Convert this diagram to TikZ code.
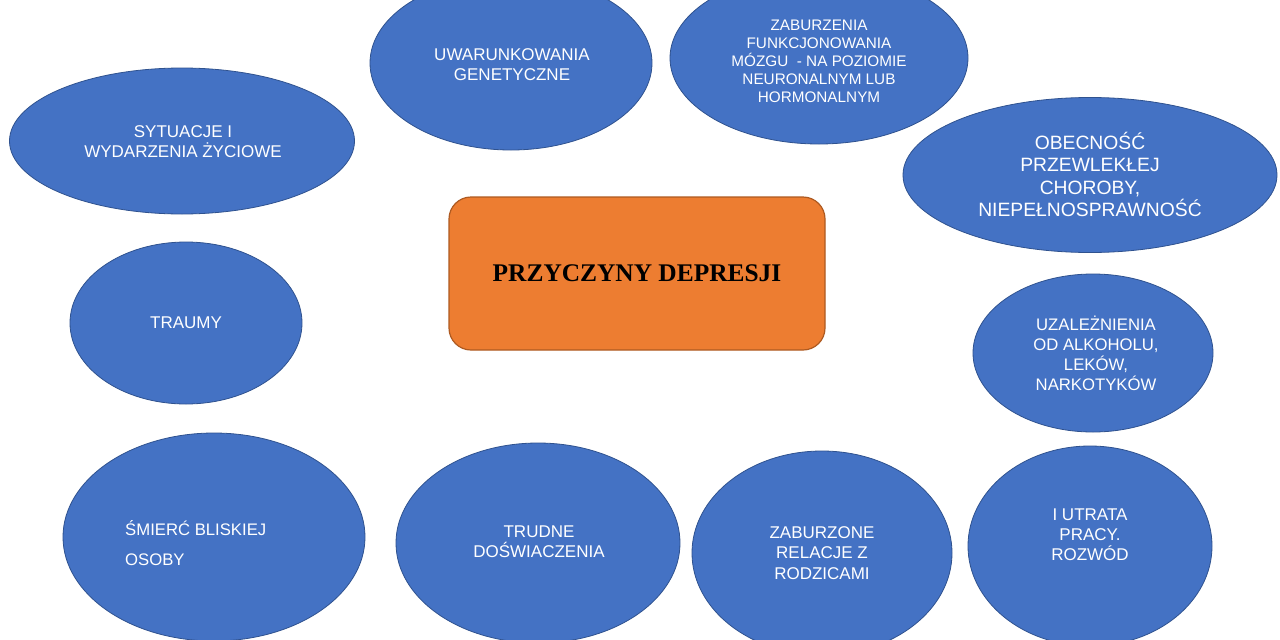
\documentclass[tikz,border=0pt]{standalone}
\usepackage{fontspec}
\setmainfont{Liberation Sans}
\newfontfamily\titlefont{Liberation Serif}
\usetikzlibrary{shapes.geometric}
\definecolor{blobfill}{HTML}{4472C4}
\definecolor{blobline}{HTML}{2F528F}
\definecolor{boxfill}{HTML}{ED7D31}
\definecolor{boxline}{HTML}{AE5A21}
\tikzset{
  blob/.style={ellipse, fill=blobfill, draw=blobline, line width=0.8pt, inner sep=0pt},
  txt/.style={text=white, align=center, inner sep=0pt, font=\fontsize{17}{20.5}\selectfont},
  mainbox/.style={rectangle, rounded corners=22pt, fill=boxfill, draw=boxline, line width=1.2pt,
    minimum width=376pt, minimum height=153pt, inner sep=0pt,
    font=\titlefont\bfseries\fontsize{25.4}{28}\selectfont}
}
\begin{document}
\begin{tikzpicture}[x=1pt,y=-1pt]
\useasboundingbox (0,0) rectangle (1280,640);
\clip (0,0) rectangle (1280,640);
\fill[white] (0,0) rectangle (1280,640);

% ellipses
\node[blob, minimum width=282pt, minimum height=174pt] (gen) at (511,63) {};
\node[blob, minimum width=298pt, minimum height=172pt] (mozg) at (819,58) {};
\node[blob, minimum width=345pt, minimum height=146pt] (syt) at (182,141) {};
\node[blob, minimum width=374pt, minimum height=155pt] (chor) at (1090,175) {};
\node[blob, minimum width=232pt, minimum height=162pt] (traumy) at (186,323) {};
\node[blob, minimum width=240pt, minimum height=158pt] (uzal) at (1093,353) {};
\node[blob, minimum width=302pt, minimum height=208pt] (smierc) at (214,537) {};
\node[blob, minimum width=284pt, minimum height=200pt] (trudne) at (538,543) {};
\node[blob, minimum width=260pt, minimum height=204pt] (relacje) at (822,553) {};
\node[blob, minimum width=244pt, minimum height=200pt] (praca) at (1090,546) {};

% center box
\node[mainbox] (center) at (637,273.5) {\raisebox{-1.5pt}{PRZYCZYNY DEPRESJI}};

% texts
\node[txt] (tgen) at (512,64.5) {UWARUNKOWANIA\\GENETYCZNE};
\node[txt, font=\fontsize{15.3}{18}\selectfont] (tmozg) at (819,61.5) {ZABURZENIA\\FUNKCJONOWANIA\\MÓZGU\ \ - NA POZIOMIE\\NEURONALNYM LUB\\HORMONALNYM};
\node[txt] (tsyt) at (183,141.5) {SYTUACJE I\\WYDARZENIA ŻYCIOWE};
\node[txt, font=\fontsize{19.3}{22.3}\selectfont] (tchor) at (1090,174.5) {OBECNOŚĆ\\PRZEWLEKŁEJ\\CHOROBY,\\NIEPEŁNOSPRAWNOŚĆ};
\node[txt] (ttraumy) at (186,323) {TRAUMY};
\node[txt, font=\fontsize{16.7}{20}\selectfont] (tuzal) at (1096,353) {UZALEŻNIENIA\\OD ALKOHOLU,\\LEKÓW,\\NARKOTYKÓW};
\node[txt, align=left, anchor=west, font=\fontsize{16.7}{30}\selectfont] (tsmierc) at (125,543) {ŚMIERĆ BLISKIEJ\\OSOBY};
\node[txt, font=\fontsize{17}{20}\selectfont] (ttrudne) at (539,542) {TRUDNE\\DOŚWIACZENIA};
\node[txt] (trelacje) at (822,553) {ZABURZONE\\RELACJE Z\\RODZICAMI};
\node[txt, font=\fontsize{17}{20}\selectfont] (tpraca) at (1090,535) {I UTRATA\\PRACY.\\ROZWÓD};
\end{tikzpicture}
\end{document}
